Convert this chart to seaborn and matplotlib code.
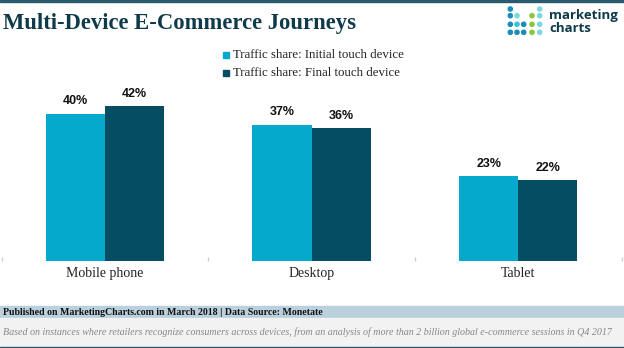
import numpy as np
import pandas as pd
import matplotlib
matplotlib.use("Agg")
import matplotlib.pyplot as plt
from matplotlib.patches import Rectangle, Ellipse
import seaborn as sns

# data
devices = ["Mobile phone", "Desktop", "Tablet"]
series = ["Traffic share: Initial touch device", "Traffic share: Final touch device"]
initial_share = [40, 37, 23]
final_share = [42, 36, 22]

INITIAL_COLOR = "#04a9cb"
FINAL_COLOR = "#054d63"
DARK = "#0f3a4a"

df = pd.DataFrame({
    "device": devices * 2,
    "series": [series[0]] * 3 + [series[1]] * 3,
    "share": initial_share + final_share,
})

sns.set_theme(style="white")
plt.rcParams["font.family"] = ["Liberation Serif", "DejaVu Serif"]

W, H = 624, 348
fig = plt.figure(figsize=(W / 100, H / 100), dpi=100)


def fy(y_px):
    return 1 - y_px / H


ax = fig.add_axes([1.5 / W, fy(261), 620 / W, 177 / H])
sns.barplot(data=df, x="device", y="share", hue="series", order=devices,
            hue_order=series, palette=[INITIAL_COLOR, FINAL_COLOR],
            width=0.571, saturation=1, linewidth=0, ax=ax, legend=False)
ax.set_ylim(0, 48)
ax.set_xlim(-0.5, 2.5)
ax.set_xlabel("")
ax.set_ylabel("")
ax.set_yticks([])
for s in ["top", "right", "left", "bottom"]:
    ax.spines[s].set_visible(False)
ax.axhline(0, color="#cfcfcf", lw=0.8, ls=(0, (2, 2)), zorder=0)
ax.set_xticks([-0.5, 0.5, 1.5, 2.5], minor=True)
ax.tick_params(axis="x", which="minor", length=3, color="#cfcfcf", direction="in", bottom=True)
ax.tick_params(axis="x", which="major", length=0, pad=4, labelsize=10, labelcolor="#222222")

for cont in ax.containers:
    ax.bar_label(cont, labels=[f"{v:.0f}%" for v in cont.datavalues], padding=4.5,
                 fontsize=9, fontweight="bold", color="#111111",
                 family=["Liberation Sans", "DejaVu Sans"])

# title and rules
fig.patches.append(Rectangle((0, fy(2)), 1, 2 / H, transform=fig.transFigure,
                             color="#2a5a6c", zorder=0))
fig.text(3 / W, fy(29), "Multi-Device E-Commerce Journeys", fontsize=16.3,
         fontweight="bold", color=DARK, va="baseline", ha="left")

# legend
for i, (lab, col) in enumerate(zip(series, [INITIAL_COLOR, FINAL_COLOR])):
    y = 55 + i * 18
    fig.patches.append(Rectangle((222.7 / W, fy(y + 3)), 6 / W, 6 / H,
                                 transform=fig.transFigure, color=col))
    fig.text(232.7 / W, fy(y), lab, fontsize=9.3, color="#222222", va="center", ha="left")

# logo
dot_cols = [510.3, 517, 523.7, 532, 539.7]
dot_rows = [9, 15.7, 24.3, 32.3]
c1, c2, c3, c4 = "#1b8bb8", "#35c3d6", "#7dd8de", "#8cc63f"
pattern = [
    [c1, None, None, None, c3],
    [c1, c3, None, c4, c3],
    [c1, c2, c1, c4, c3],
    [c1, c1, c1, c4, c3],
]
for r, row in enumerate(pattern):
    for c, col in enumerate(row):
        if col:
            fig.patches.append(Ellipse((dot_cols[c] / W, fy(dot_rows[r])), 4.2 / W, 4.2 / H,
                                       transform=fig.transFigure, color=col))
fig.text(549 / W, fy(15), "marketing", fontsize=9.5, fontweight="bold", color=DARK,
         va="center", ha="left", family=["Open Sans", "DejaVu Sans"])
fig.text(549 / W, fy(29), "charts", fontsize=9.5, fontweight="bold", color=DARK,
         va="center", ha="left", family=["Open Sans", "DejaVu Sans"])

# footer
fig.patches.append(Rectangle((0, fy(318)), 1, 12 / H, transform=fig.transFigure,
                             color="#bad0dc", zorder=0))
fig.patches.append(Rectangle((0, fy(346.5)), 1, 28.5 / H, transform=fig.transFigure,
                             color="#f2f2f2", zorder=0))
fig.patches.append(Rectangle((0, 0), 1, 1.5 / H, transform=fig.transFigure,
                             color="#2a5a6c", zorder=0))
fig.text(3 / W, fy(312.5), "Published on MarketingCharts.com in March 2018 | Data Source: Monetate",
         fontsize=7.1, fontweight="bold", color="#111111", va="center", ha="left")
fig.text(3 / W, fy(332.5), "Based on instances where retailers recognize consumers across devices, "
         "from an analysis of more than 2 billion global e-commerce sessions in Q4 2017",
         fontsize=7.2, style="italic", color="#888888", va="center", ha="left")

fig.savefig("out.png", dpi=100)
